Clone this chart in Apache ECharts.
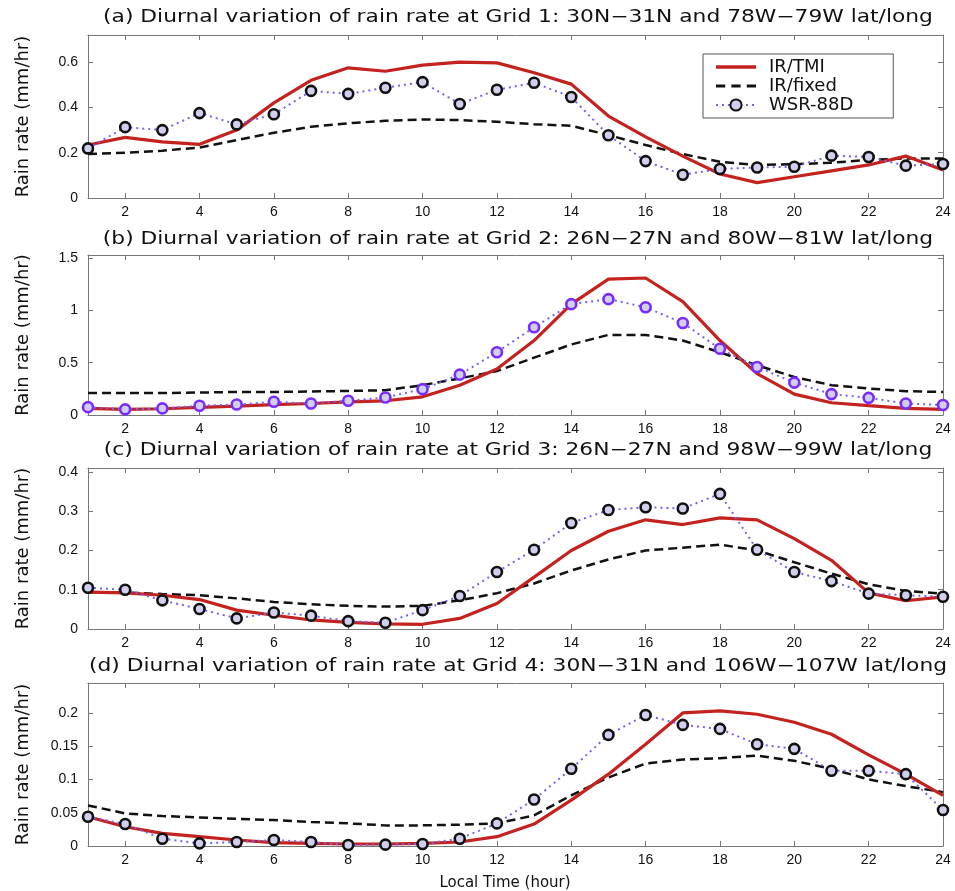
<!DOCTYPE html>
<html>
<head>
<meta charset="utf-8">
<script src="https://cdn.jsdelivr.net/npm/echarts@6/dist/echarts.min.js"></script>
<style>
  html, body { margin: 0; background: #fff; }
  #main { width: 955px; height: 891px; }
</style>
</head>
<body>
<div id="main"></div>
<script>
// hours of the day
var hours = [1,2,3,4,5,6,7,8,9,10,11,12,13,14,15,16,17,18,19,20,21,22,23,24];
var xTicks = [2,4,6,8,10,12,14,16,18,20,22,24];

// (a) Grid 1
var tmiA   = [0.234,0.268,0.248,0.237,0.30,0.42,0.52,0.575,0.56,0.587,0.60,0.597,0.553,0.503,0.362,0.27,0.185,0.106,0.068,0.094,0.12,0.146,0.185,0.124];
var fixedA = [0.194,0.20,0.209,0.223,0.256,0.288,0.315,0.33,0.341,0.347,0.344,0.337,0.326,0.319,0.278,0.234,0.194,0.16,0.146,0.149,0.156,0.168,0.175,0.175];
var wsrA   = [0.219,0.313,0.30,0.375,0.325,0.37,0.473,0.46,0.487,0.512,0.415,0.478,0.509,0.446,0.277,0.163,0.103,0.128,0.135,0.138,0.187,0.181,0.143,0.15];
// (b) Grid 2
var tmiB   = [0.063,0.054,0.06,0.073,0.085,0.10,0.11,0.126,0.136,0.174,0.285,0.44,0.712,1.06,1.30,1.31,1.085,0.712,0.396,0.20,0.117,0.089,0.063,0.054];
var fixedB = [0.21,0.21,0.21,0.215,0.22,0.22,0.225,0.23,0.237,0.285,0.35,0.42,0.548,0.674,0.766,0.766,0.712,0.60,0.475,0.364,0.285,0.253,0.228,0.22];
var wsrB   = [0.075,0.054,0.063,0.089,0.10,0.126,0.11,0.136,0.168,0.247,0.386,0.60,0.839,1.06,1.108,1.03,0.88,0.633,0.459,0.31,0.20,0.164,0.11,0.095];
// (c) Grid 3
var tmiC   = [0.094,0.092,0.086,0.075,0.048,0.035,0.023,0.017,0.013,0.012,0.027,0.065,0.132,0.20,0.249,0.278,0.266,0.283,0.278,0.23,0.175,0.092,0.072,0.082];
var fixedC = [0.094,0.093,0.089,0.086,0.078,0.069,0.063,0.059,0.057,0.059,0.073,0.091,0.116,0.149,0.177,0.20,0.207,0.215,0.20,0.17,0.141,0.114,0.097,0.09];
var wsrC   = [0.105,0.10,0.073,0.051,0.027,0.042,0.034,0.02,0.016,0.048,0.084,0.145,0.202,0.27,0.303,0.31,0.307,0.344,0.202,0.145,0.122,0.09,0.086,0.082];
// (d) Grid 4
var tmiD   = [0.044,0.029,0.019,0.014,0.009,0.005,0.004,0.003,0.003,0.004,0.006,0.014,0.033,0.069,0.108,0.153,0.20,0.203,0.198,0.186,0.168,0.137,0.108,0.076];
var fixedD = [0.061,0.049,0.045,0.043,0.041,0.039,0.036,0.034,0.031,0.031,0.032,0.034,0.046,0.076,0.103,0.124,0.13,0.132,0.136,0.128,0.116,0.10,0.09,0.081];
var wsrD   = [0.044,0.033,0.011,0.004,0.006,0.009,0.006,0.0015,0.002,0.003,0.011,0.034,0.07,0.116,0.167,0.197,0.182,0.176,0.153,0.146,0.113,0.113,0.108,0.054];

var yTicksA = [0, 0.2, 0.4, 0.6];
var yTicksB = [0, 0.5, 1, 1.5];
var yTicksC = [0, 0.1, 0.2, 0.3, 0.4];
var yTicksD = [0, 0.05, 0.1, 0.15, 0.2];

var titles = [
  '(a) Diurnal variation of rain rate at Grid 1: 30N\u221231N and 78W\u221279W lat/long',
  '(b) Diurnal variation of rain rate at Grid 2: 26N\u221227N and 80W\u221281W lat/long',
  '(c) Diurnal variation of rain rate at Grid 3: 26N\u221227N and 98W\u221299W lat/long',
  '(d) Diurnal variation of rain rate at Grid 4: 30N\u221231N and 106W\u2212107W lat/long'
];

var panels = [
  {tmi: tmiA, fixed: fixedA, wsr: wsrA, ticks: yTicksA, max: 0.72},
  {tmi: tmiB, fixed: fixedB, wsr: wsrB, ticks: yTicksB, max: 1.53},
  {tmi: tmiC, fixed: fixedC, wsr: wsrC, ticks: yTicksC, max: 0.41},
  {tmi: tmiD, fixed: fixedD, wsr: wsrD, ticks: yTicksD, max: 0.245}
];

var FONT = 'Liberation Sans, Arial, Helvetica, sans-serif';
var WIDE = 'DejaVu Sans, Liberation Sans, sans-serif';
var gridTop = [35, 255, 468, 683];
var gridH = [163, 160, 161, 163];
var titleY = [18, 240, 451, 667];

function pairs(arr) {
  return hours.map(function (h, i) { return [h, arr[i]]; });
}

var grids = [], xAxes = [], yAxes = [], series = [], graphics = [];
var axisLine = {show: true, onZero: false, lineStyle: {color: '#777', width: 1}};

panels.forEach(function (p, k) {
  grids.push({left: 88, right: 12, top: gridTop[k], height: gridH[k]});
  // bottom x axis with labels
  xAxes.push({
    type: 'value', gridIndex: k, min: 1, max: 24, position: 'bottom',
    axisLine: axisLine, splitLine: {show: false},
    axisTick: {inside: true, length: 5, customValues: xTicks, lineStyle: {color: '#777'}},
    axisLabel: {customValues: xTicks, color: '#111', fontSize: 14, fontFamily: FONT, margin: 7}
  });
  // top mirror
  xAxes.push({
    type: 'value', gridIndex: k, min: 1, max: 24, position: 'top',
    axisLine: axisLine, splitLine: {show: false},
    axisTick: {inside: true, length: 5, customValues: xTicks, lineStyle: {color: '#777'}},
    axisLabel: {show: false}
  });
  yAxes.push({
    type: 'value', gridIndex: k, min: 0, max: p.max, position: 'left',
    axisLine: axisLine, splitLine: {show: false},
    axisTick: {inside: true, length: 5, customValues: p.ticks, lineStyle: {color: '#777'}},
    axisLabel: {customValues: p.ticks, color: '#111', fontSize: 14, fontFamily: FONT, margin: 10}
  });
  yAxes.push({
    type: 'value', gridIndex: k, min: 0, max: p.max, position: 'right',
    axisLine: axisLine, splitLine: {show: false},
    axisTick: {inside: true, length: 5, customValues: p.ticks, lineStyle: {color: '#777'}},
    axisLabel: {show: false}
  });

  var markColor = k === 1 ? '#7a2cff' : '#111';
  series.push({
    name: 'IR/TMI', type: 'line', xAxisIndex: 2 * k, yAxisIndex: 2 * k,
    data: pairs(p.tmi), showSymbol: false, symbol: 'none', z: 3,
    lineStyle: {color: '#c4221f', width: 3.2}, itemStyle: {color: '#c4221f'}
  });
  series.push({
    name: 'IR/fixed', type: 'line', xAxisIndex: 2 * k, yAxisIndex: 2 * k,
    data: pairs(p.fixed), showSymbol: false, symbol: 'none', z: 2,
    lineStyle: {color: '#111', width: 2.5, type: [9, 5]}, itemStyle: {color: '#111'}
  });
  series.push({
    name: 'WSR-88D', type: 'line', xAxisIndex: 2 * k, yAxisIndex: 2 * k,
    data: pairs(p.wsr), symbol: 'circle', symbolSize: 10, clip: false, z: 4,
    lineStyle: {color: '#6f63ff', width: 2, type: [2, 4]},
    itemStyle: {color: '#d0d0ee', borderColor: markColor, borderWidth: 2.6}
  });

  graphics.push({
    type: 'text', x: 518, y: titleY[k], scaleX: 1.28,
    style: {text: titles[k], font: '17px ' + WIDE, fill: '#111',
            textAlign: 'center', textVerticalAlign: 'middle'}
  });
  graphics.push({
    type: 'text', x: 23, y: gridTop[k] + gridH[k] / 2, rotation: Math.PI / 2,
    style: {text: 'Rain rate (mm/hr)', font: '18px ' + WIDE, fill: '#111',
            textAlign: 'center', textVerticalAlign: 'middle'}
  });
});

graphics.push({
  type: 'text', x: 505, y: 883,
  style: {text: 'Local Time (hour)', font: '15px ' + WIDE, fill: '#111',
          textAlign: 'center', textVerticalAlign: 'middle'}
});

var chart = echarts.init(document.getElementById('main'));
chart.setOption({
  backgroundColor: '#fff',
  animation: false,
  grid: grids,
  xAxis: xAxes,
  yAxis: yAxes,
  legend: {
    data: [
      {name: 'IR/TMI', icon: 'path://M0,0h40v3.5h-40z', itemStyle: {color: '#c4221f'}},
      {name: 'IR/fixed', icon: 'path://M0,0h9v3h-9z M15,0h9v3h-9z M30,0h9v3h-9z', itemStyle: {color: '#111'}},
      {name: 'WSR-88D'}
    ],
    orient: 'vertical', left: 703, top: 54,
    backgroundColor: '#fff', borderColor: '#555', borderWidth: 1,
    padding: [4, 40, 4, 12], itemGap: 1, itemWidth: 40, itemHeight: 14,
    textStyle: {fontSize: 18, lineHeight: 18, fontFamily: WIDE, color: '#111', padding: [0, 0, 0, 8]}
  },
  graphic: graphics,
  series: series
});
</script>
</body>
</html>
